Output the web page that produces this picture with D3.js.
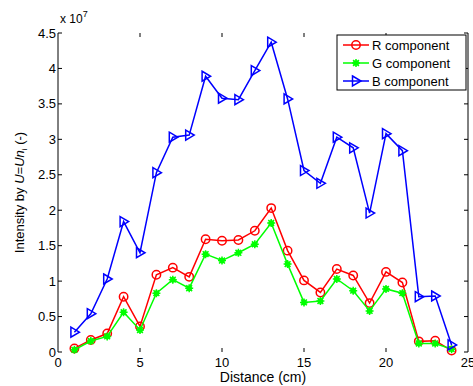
<!DOCTYPE html>
<html>
<head>
<meta charset="utf-8">
<script src="https://cdn.jsdelivr.net/npm/d3@7"></script>
<style>
  body { margin: 0; background: #fff; }
  svg { display: block; font-family: "Liberation Sans", Arial, sans-serif; }
</style>
</head>
<body>
<div id="chart"></div>
<script>
// distance positions (cm)
const distance = [1, 2, 3, 4, 5, 6, 7, 8, 9, 10, 11, 12, 13, 14, 15, 16, 17, 18, 19, 20, 21, 22, 23, 24];
// intensities in units of 1e7
const rValues = [0.05, 0.17, 0.26, 0.78, 0.36, 1.09, 1.19, 1.06, 1.59, 1.57, 1.58, 1.71, 2.03, 1.43, 1.01, 0.84, 1.17, 1.08, 0.69, 1.13, 0.98, 0.15, 0.16, 0.02];
const gValues = [0.03, 0.155, 0.22, 0.56, 0.31, 0.83, 1.02, 0.90, 1.38, 1.29, 1.40, 1.52, 1.82, 1.24, 0.70, 0.72, 1.03, 0.865, 0.58, 0.89, 0.83, 0.12, 0.12, 0.04];
const bValues = [0.28, 0.54, 1.03, 1.84, 1.40, 2.53, 3.03, 3.06, 3.89, 3.58, 3.56, 3.97, 4.37, 3.57, 2.56, 2.38, 3.03, 2.88, 1.96, 3.08, 2.84, 0.78, 0.79, 0.10];
const xTicks = [0, 5, 10, 15, 20, 25];
const yTicks = [0, 0.5, 1, 1.5, 2, 2.5, 3, 3.5, 4, 4.5];
const seriesNames = ["R component", "G component", "B component"];
const seriesColors = ["#ff0000", "#00ff00", "#0000ff"];

const width = 473, height = 386;
const margin = {left: 58, right: 5, top: 33, bottom: 34};

const svg = d3.select("#chart").append("svg")
    .attr("width", width)
    .attr("height", height);

const x = d3.scaleLinear().domain([0, 25]).range([margin.left, width - margin.right]);
const y = d3.scaleLinear().domain([0, 4.5]).range([height - margin.bottom, margin.top]);

// axes: only vertical frame lines visible in the reference
svg.append("line")
    .attr("x1", x(0)).attr("x2", x(0)).attr("y1", y(0)).attr("y2", y(4.5))
    .attr("stroke", "#000");
svg.append("line")
    .attr("x1", x(25)).attr("x2", x(25)).attr("y1", y(0)).attr("y2", y(4.5))
    .attr("stroke", "#000");

const tickLen = 4;
// y ticks + labels
yTicks.forEach(t => {
  svg.append("line").attr("x1", x(0)).attr("x2", x(0) + tickLen)
      .attr("y1", y(t)).attr("y2", y(t)).attr("stroke", "#000");
  svg.append("line").attr("x1", x(25)).attr("x2", x(25) - tickLen)
      .attr("y1", y(t)).attr("y2", y(t)).attr("stroke", "#000");
  svg.append("text")
      .attr("x", x(0) - 2).attr("y", y(t))
      .attr("dy", "0.35em")
      .attr("text-anchor", "end")
      .attr("font-size", 13)
      .text(t);
});
// x ticks + labels
xTicks.forEach(t => {
  if (t > 0 && t < 25) {
    svg.append("line").attr("x1", x(t)).attr("x2", x(t))
        .attr("y1", y(0)).attr("y2", y(0) - tickLen).attr("stroke", "#000");
    svg.append("line").attr("x1", x(t)).attr("x2", x(t))
        .attr("y1", y(4.5)).attr("y2", y(4.5) + tickLen).attr("stroke", "#000");
  }
  svg.append("text")
      .attr("x", x(t)).attr("y", y(0) + 15)
      .attr("text-anchor", "middle")
      .attr("font-size", 13)
      .text(t);
});

// exponent
const expo = svg.append("text").attr("x", x(0) + 2).attr("y", 23).attr("font-size", 12);
expo.append("tspan").text("x 10");
expo.append("tspan").attr("dy", -6).attr("font-size", 9).text("7");

// axis labels
svg.append("text")
    .attr("x", (x(0) + x(25)) / 2).attr("y", 382)
    .attr("text-anchor", "middle")
    .attr("font-size", 14)
    .text("Distance (cm)");

const yl = svg.append("text")
    .attr("transform", `translate(24,${(y(0) + y(4.5)) / 2}) rotate(-90)`)
    .attr("text-anchor", "middle")
    .attr("font-size", 13);
yl.append("tspan").text("Intensity by ");
yl.append("tspan").attr("font-style", "italic").text("U");
yl.append("tspan").text("=");
yl.append("tspan").attr("font-style", "italic").text("Un");
yl.append("tspan").attr("dy", 3).attr("font-size", 8).text("i");
yl.append("tspan").attr("dy", -3).text(" (-)");

const line = d3.line().x((d, i) => x(distance[i])).y(d => y(d));

const tri = "M-3.5,-5 L5,0 L-3.5,5 Z";

function marker(g, k) {
  if (k === 0) {
    g.append("circle").attr("r", 4.2)
        .attr("fill", "none").attr("stroke", seriesColors[0]).attr("stroke-width", 1.5);
  } else if (k === 1) {
    // filled asterisk-like marker
    g.append("circle").attr("r", 2.8).attr("fill", seriesColors[1]);
    g.append("path")
        .attr("d", "M-4,0H4M0,-4V4M-2.9,-2.9L2.9,2.9M-2.9,2.9L2.9,-2.9")
        .attr("stroke", seriesColors[1]).attr("stroke-width", 1.5);
  } else {
    g.append("path").attr("d", tri)
        .attr("fill", "none").attr("stroke", seriesColors[2]).attr("stroke-width", 1.5);
  }
}

[rValues, gValues, bValues].forEach((vals, k) => {
  svg.append("path")
      .datum(vals)
      .attr("d", line)
      .attr("fill", "none")
      .attr("stroke", seriesColors[k])
      .attr("stroke-width", 1.5);
  svg.append("g").selectAll("g")
      .data(vals)
      .join("g")
      .attr("transform", (d, i) => `translate(${x(distance[i])},${y(d)})`)
      .each(function() { marker(d3.select(this), k); });
});

// legend
const lg = svg.append("g").attr("transform", "translate(337,35)");
lg.append("rect").attr("width", 129).attr("height", 55)
    .attr("fill", "#fff").attr("stroke", "#000").attr("stroke-width", 1);
seriesNames.forEach((name, k) => {
  const yy = 10 + k * 18;
  lg.append("line").attr("x1", 6).attr("x2", 32).attr("y1", yy).attr("y2", yy)
      .attr("stroke", seriesColors[k]).attr("stroke-width", 1.5);
  const m = lg.append("g").attr("transform", `translate(19,${yy})`);
  marker(m, k);
  lg.append("text").attr("x", 35).attr("y", yy).attr("dy", "0.35em")
      .attr("font-size", 13).text(name);
});
</script>
</body>
</html>
